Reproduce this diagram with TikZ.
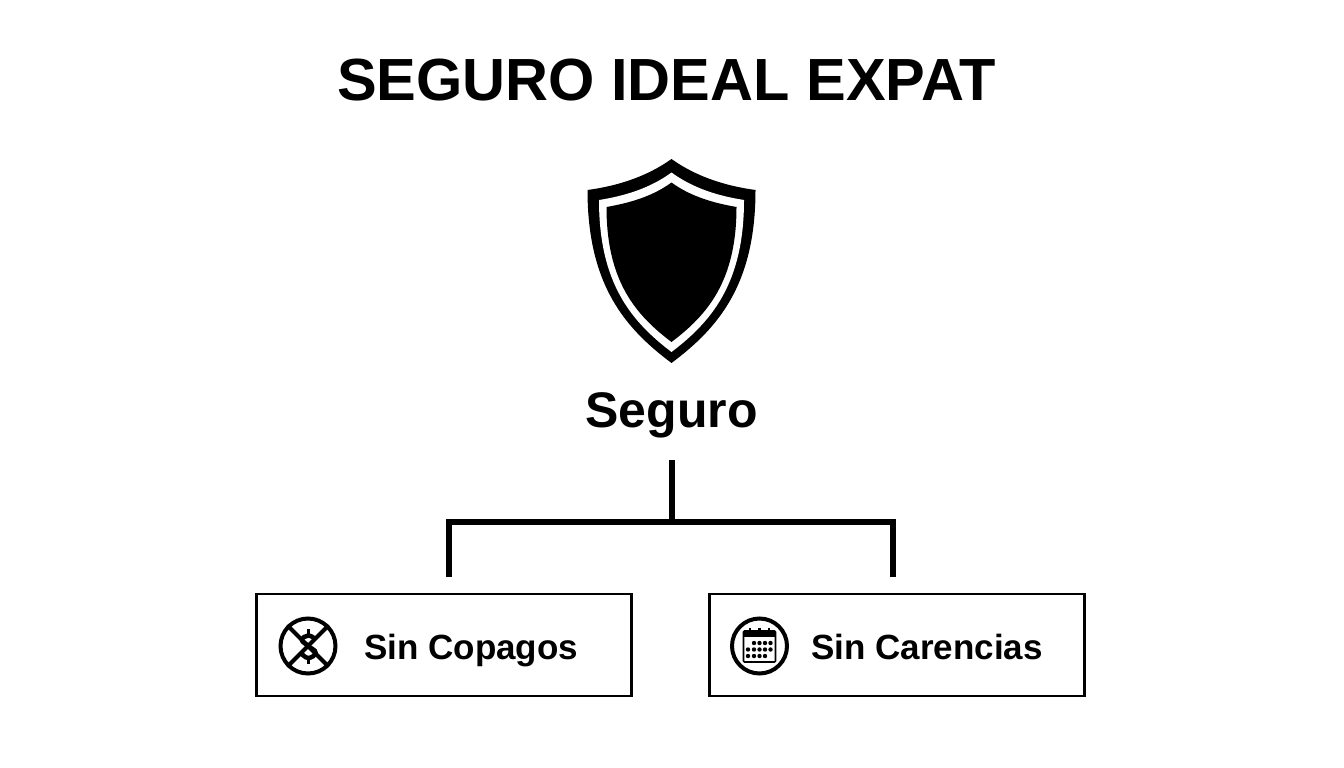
\documentclass[tikz,border=0pt]{standalone}
\usepackage{fontspec}
\setmainfont{Liberation Sans}
\newcommand{\shieldshape}[4]{% top, half width, corner y, bottom
  (671.5,#1) .. controls (671.5+0.3*#2,#1+0.58*#3-0.58*#1) and (671.5+0.65*#2,#3-4) .. (671.5+#2,#3)
  .. controls (671.5+#2,#3+0.55*#4-0.55*#3) and (671.5+0.55*#2,#3+0.8*#4-0.8*#3) .. (671.5,#4)
  .. controls (671.5-0.55*#2,#3+0.8*#4-0.8*#3) and (671.5-#2,#3+0.55*#4-0.55*#3) .. (671.5-#2,#3)
  .. controls (671.5-0.65*#2,#3-4) and (671.5-0.3*#2,#1+0.58*#3-0.58*#1) .. (671.5,#1) -- cycle}
\tikzset{
  titletext/.style={font=\fontsize{59.5}{70}\selectfont\bfseries, inner sep=0pt, anchor=base},
  headtext/.style={font=\fontsize{50}{60}\selectfont\bfseries, inner sep=0pt, anchor=base},
  boxtext/.style={font=\fontsize{35}{40}\selectfont\bfseries, inner sep=0pt, anchor=base west},
  itembox/.style={draw, line width=2.5pt, minimum width=375pt, minimum height=102pt, inner sep=0pt},
  fork/.style={line width=6pt, line cap=butt, line join=miter},
  iconring/.style={draw, circle, line width=4pt, minimum size=55pt, inner sep=0pt},
}
\begin{document}
\begin{tikzpicture}[x=1pt,y=-1pt]
  \useasboundingbox (0,0) rectangle (1344,768);
  \node[titletext] (title) at (666.5,100) {SEGURO IDEAL EXPAT};

  % shield
  \fill[black] \shieldshape{159}{84}{190}{363};
  \fill[white] \shieldshape{172.5}{72.5}{200}{352};
  \fill[black] \shieldshape{182.5}{65}{207}{342};

  \node[headtext] (seguro) at (671.5,427) {Seguro};

  \node[itembox] (copagos) at (444,645) {};
  \node[itembox] (carencias) at (897,645) {};
  \node[boxtext] (copagostext) at (364,659.5) {Sin Copagos};
  \node[boxtext] (carenciastext) at (811,659.5) {Sin Carencias};

  % fork
  \coordinate (stemtop) at (671.5,460);
  \coordinate (stemend) at (671.5,522);
  \coordinate (forkleft) at (449,577);
  \coordinate (forkright) at (893,577);
  \draw[fork] (stemtop) -- (stemend);
  \draw[fork] (forkleft) |- (stemend) -| (forkright);

  % no copay icon
  \node[iconring] (nocopay) at (308,646) {};
  \draw[line width=4.5pt] plot[smooth, tension=0.8] coordinates {(315,639) (308.3,635.5) (302,640) (308.3,646) (315.5,652.5) (308.3,658) (301,653)};
  \draw[line width=3.5pt] (308.3,629) -- (308.3,635);
  \draw[line width=3.5pt] (308.3,658) -- (308.3,664);
  \draw[line width=4pt] (nocopay.north west) -- (nocopay.south east);
  \draw[line width=4pt] (nocopay.north east) -- (nocopay.south west);

  % calendar icon
  \node[iconring] (calendar) at (759.5,646) {};
  \draw[line width=1.6pt, rounded corners=1pt] (743.5,631) rectangle (775.5,662);
  \fill[black] (743.5,631) rectangle (775.5,637);
  \foreach \tabx in {750,759.5,769}
    \fill[black] (\tabx-1.3,628) rectangle (\tabx+1.3,634);
  \foreach \dotx in {754,759.5,765,770.5}
    \fill[black] (\dotx,643) circle (2.2pt);
  \foreach \dotx in {748,754,759.5,765,770.5}
    \fill[black] (\dotx,649.5) circle (2.2pt);
  \foreach \dotx in {748,754,759.5,765}
    \fill[black] (\dotx,656) circle (2.2pt);
\end{tikzpicture}
\end{document}
